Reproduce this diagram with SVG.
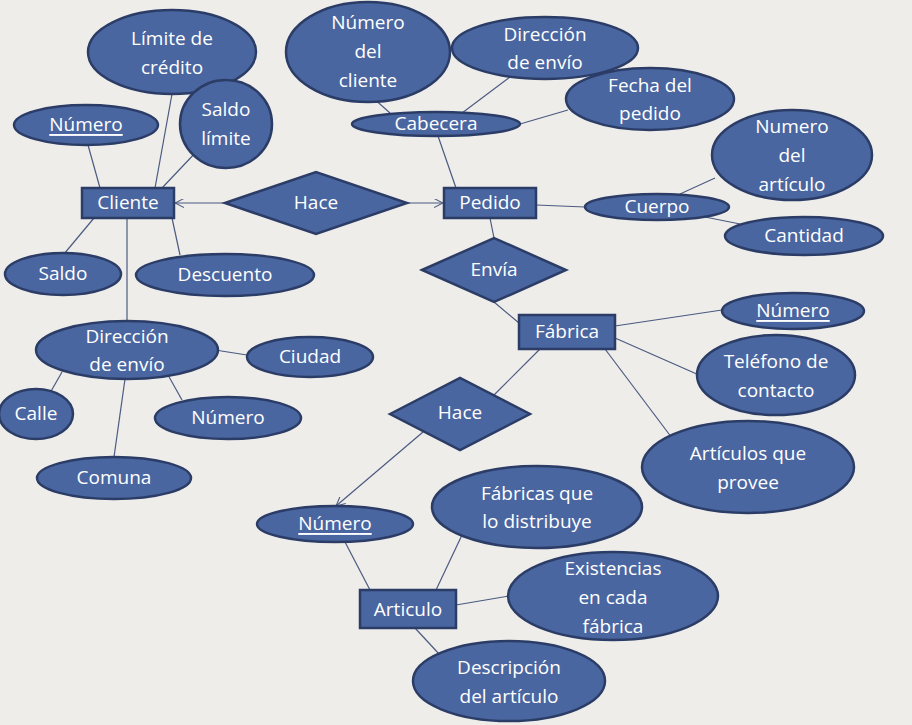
<svg xmlns="http://www.w3.org/2000/svg" width="912" height="725" viewBox="0 0 912 725">
<defs>
<style>
.s{fill:#4a66a0;stroke:#2b3d66;stroke-width:2.5}
.t{fill:#fff;font-family:"Open Sans","Liberation Sans",sans-serif;font-size:19px;text-anchor:middle;dominant-baseline:central}
.u{text-decoration:underline}
.c line{stroke:#4a5a80;stroke-width:1.2}
</style>
<marker id="a" viewBox="0 0 10 10" refX="10" refY="5" markerWidth="9" markerHeight="9" orient="auto-start-reverse" markerUnits="userSpaceOnUse"><path d="M0,0 L10,5 L0,10" fill="none" stroke="#4a5a80" stroke-width="1.2"/></marker>
</defs>
<rect width="912" height="725" fill="#efedea"/>
<g class="c">
<line x1="88" y1="145" x2="100" y2="188"/>
<line x1="172" y1="94" x2="155" y2="188"/>
<line x1="198" y1="150" x2="162" y2="188"/>
<line x1="94" y1="218" x2="64" y2="254"/>
<line x1="172" y1="218" x2="180" y2="255"/>
<line x1="127" y1="218" x2="127" y2="322"/>
<line x1="225" y1="203" x2="175" y2="203" marker-end="url(#a)"/>
<line x1="407" y1="203" x2="443" y2="203" marker-end="url(#a)"/>
<line x1="215" y1="350" x2="247" y2="355"/>
<line x1="62" y1="372" x2="50" y2="393"/>
<line x1="168" y1="375" x2="182" y2="400"/>
<line x1="125" y1="379" x2="114" y2="457"/>
<line x1="456" y1="188" x2="438" y2="136"/>
<line x1="390" y1="113" x2="372" y2="97"/>
<line x1="462" y1="113" x2="510" y2="77"/>
<line x1="520" y1="124" x2="568" y2="110"/>
<line x1="536" y1="205" x2="585" y2="207"/>
<line x1="680" y1="194" x2="715" y2="178"/>
<line x1="705" y1="217" x2="740" y2="224"/>
<line x1="490" y1="218" x2="494" y2="238"/>
<line x1="494" y1="302" x2="519" y2="323"/>
<line x1="615" y1="326" x2="722" y2="310"/>
<line x1="615" y1="338" x2="699" y2="375"/>
<line x1="605" y1="349" x2="672" y2="438"/>
<line x1="540" y1="349" x2="493" y2="396"/>
<line x1="423" y1="432" x2="336" y2="506" marker-end="url(#a)"/>
<line x1="370" y1="590" x2="345" y2="542"/>
<line x1="436" y1="590" x2="462" y2="535"/>
<line x1="456" y1="605" x2="509" y2="596"/>
<line x1="415" y1="628" x2="440" y2="655"/>
</g>
<g id="limite"><ellipse class="s" cx="172" cy="52" rx="84" ry="42"/><text class="t" x="172" y="38">Límite de</text><text class="t" x="172" y="67">crédito</text></g>
<g id="numero1"><ellipse class="s" cx="86" cy="125" rx="72" ry="20"/><text class="t u" x="86" y="124">Número</text></g>
<g id="saldolimite"><ellipse class="s" cx="226" cy="124" rx="46" ry="44"/><text class="t" x="226" y="109">Saldo</text><text class="t" x="226" y="138">límite</text></g>
<g id="saldo"><ellipse class="s" cx="63" cy="274" rx="58" ry="21"/><text class="t" x="63" y="273">Saldo</text></g>
<g id="descuento"><ellipse class="s" cx="225" cy="275" rx="89" ry="21"/><text class="t" x="225" y="274">Descuento</text></g>
<g id="direccion1"><ellipse class="s" cx="127" cy="350" rx="91" ry="29"/><text class="t" x="127" y="336">Dirección</text><text class="t" x="127" y="364">de envío</text></g>
<g id="ciudad"><ellipse class="s" cx="310" cy="357" rx="63" ry="20"/><text class="t" x="310" y="356">Ciudad</text></g>
<g id="calle"><ellipse class="s" cx="36" cy="414" rx="37" ry="25"/><text class="t" x="36" y="413">Calle</text></g>
<g id="numero2"><ellipse class="s" cx="228" cy="418" rx="73" ry="21"/><text class="t" x="228" y="417">Número</text></g>
<g id="comuna"><ellipse class="s" cx="114" cy="478" rx="77" ry="21"/><text class="t" x="114" y="477">Comuna</text></g>
<g id="numcliente"><ellipse class="s" cx="368" cy="52" rx="82" ry="50"/><text class="t" x="368" y="22">Número</text><text class="t" x="368" y="51">del</text><text class="t" x="368" y="80">cliente</text></g>
<g id="direccion2"><ellipse class="s" cx="545" cy="48" rx="93" ry="31"/><text class="t" x="545" y="34">Dirección</text><text class="t" x="545" y="62">de envío</text></g>
<g id="cabecera"><ellipse class="s" cx="436" cy="124" rx="84" ry="12"/><text class="t" x="436" y="123">Cabecera</text></g>
<g id="fecha"><ellipse class="s" cx="650" cy="99" rx="84" ry="31"/><text class="t" x="650" y="85">Fecha del</text><text class="t" x="650" y="113">pedido</text></g>
<g id="numarticulo"><ellipse class="s" cx="792" cy="155" rx="80" ry="45"/><text class="t" x="792" y="126">Numero</text><text class="t" x="792" y="155">del</text><text class="t" x="792" y="184">artículo</text></g>
<g id="cuerpo"><ellipse class="s" cx="657" cy="207" rx="72" ry="13"/><text class="t" x="657" y="206">Cuerpo</text></g>
<g id="cantidad"><ellipse class="s" cx="804" cy="236" rx="79" ry="19"/><text class="t" x="804" y="235">Cantidad</text></g>
<g id="numero3"><ellipse class="s" cx="793" cy="311" rx="71" ry="18"/><text class="t u" x="793" y="310">Número</text></g>
<g id="telefono"><ellipse class="s" cx="776" cy="375" rx="79" ry="40"/><text class="t" x="776" y="361">Teléfono de</text><text class="t" x="776" y="390">contacto</text></g>
<g id="articulos"><ellipse class="s" cx="748" cy="467" rx="106" ry="46"/><text class="t" x="748" y="453">Artículos que</text><text class="t" x="748" y="482">provee</text></g>
<g id="numero4"><ellipse class="s" cx="335" cy="524" rx="78" ry="18"/><text class="t u" x="335" y="523">Número</text></g>
<g id="fabricas"><ellipse class="s" cx="537" cy="507" rx="105" ry="41"/><text class="t" x="537" y="493">Fábricas que</text><text class="t" x="537" y="521">lo distribuye</text></g>
<g id="existencias"><ellipse class="s" cx="613" cy="596" rx="105" ry="44"/><text class="t" x="613" y="568">Existencias</text><text class="t" x="613" y="597">en cada</text><text class="t" x="613" y="626">fábrica</text></g>
<g id="descripcion"><ellipse class="s" cx="509" cy="681" rx="96" ry="40"/><text class="t" x="509" y="667">Descripción</text><text class="t" x="509" y="696">del artículo</text></g>
<g id="cliente"><rect class="s" x="82" y="188" width="92" height="30"/><text class="t" x="128" y="202">Cliente</text></g>
<g id="pedido"><rect class="s" x="444" y="188" width="92" height="30"/><text class="t" x="490" y="202">Pedido</text></g>
<g id="fabrica"><rect class="s" x="519" y="315" width="96" height="34"/><text class="t" x="567" y="331">Fábrica</text></g>
<g id="articulo"><rect class="s" x="360" y="590" width="96" height="38"/><text class="t" x="408" y="609">Articulo</text></g>
<g id="hace1"><polygon class="s" points="225,203 316,172 407,203 316,234"/><text class="t" x="316" y="202">Hace</text></g>
<g id="envia"><polygon class="s" points="422,270 494,238 566,270 494,302"/><text class="t" x="494" y="269">Envía</text></g>
<g id="hace2"><polygon class="s" points="390,414 460,378 530,414 460,450"/><text class="t" x="460" y="412">Hace</text></g>
</svg>
